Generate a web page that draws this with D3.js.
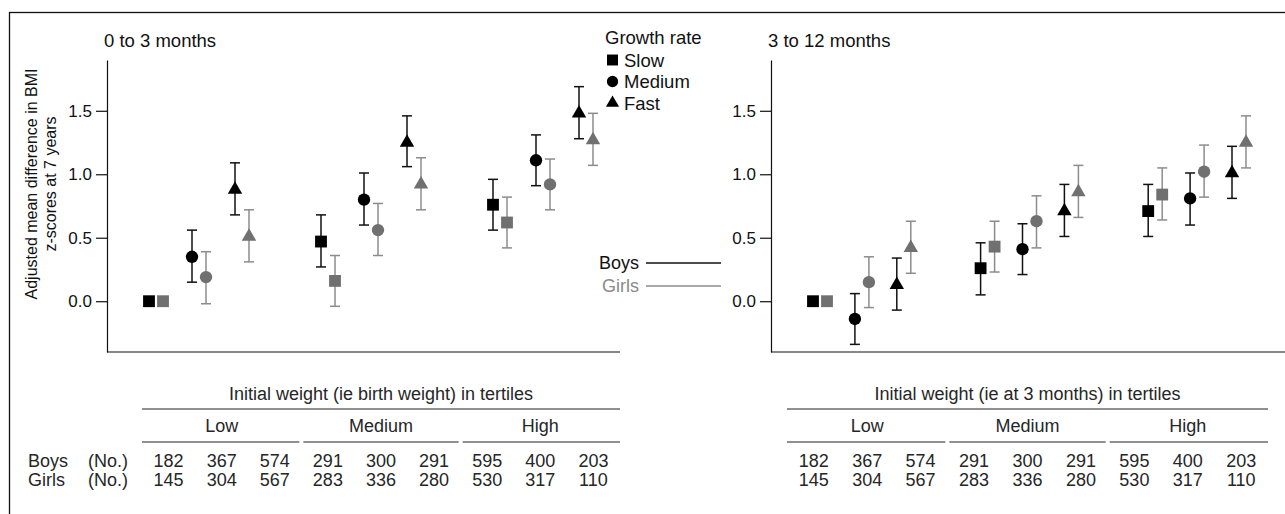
<!DOCTYPE html>
<html>
<head>
<meta charset="UTF-8">
<script src="https://d3js.org/d3.v7.min.js"></script>
<style>
  body { margin: 0; background: #fff; }
  svg { display: block; font-family: 'Liberation Sans', Arial, sans-serif; }
  .tbl { fill: #262626; }
  .axis text { font-size: 17px; fill: #111; }
  .axis path, .axis line { stroke: #111; stroke-width: 1.2; }
</style>
</head>
<body>
<div id="chart"></div>
<script>
// data
const tertiles = ["Low", "Medium", "High"];
const growth = ["Slow", "Medium", "Fast"];
const yTicks = [0, 0.5, 1.0, 1.5];

// 0 to 3 months (order: Low slow/med/fast, Medium ..., High ...)
const boys03   = [0, 0.35, 0.88, 0.47, 0.80, 1.25, 0.76, 1.11, 1.48];
const boys03Lo = [null, 0.15, 0.68, 0.27, 0.60, 1.06, 0.56, 0.91, 1.28];
const boys03Hi = [null, 0.56, 1.09, 0.68, 1.01, 1.46, 0.96, 1.31, 1.69];
const girls03   = [0, 0.19, 0.51, 0.16, 0.56, 0.92, 0.62, 0.92, 1.27];
const girls03Lo = [null, -0.02, 0.31, -0.04, 0.36, 0.72, 0.42, 0.72, 1.07];
const girls03Hi = [null, 0.39, 0.72, 0.36, 0.77, 1.13, 0.82, 1.12, 1.48];

// 3 to 12 months
const boys312   = [0, -0.14, 0.13, 0.26, 0.41, 0.71, 0.71, 0.81, 1.01];
const boys312Lo = [null, -0.34, -0.07, 0.05, 0.21, 0.51, 0.51, 0.60, 0.81];
const boys312Hi = [null, 0.06, 0.34, 0.46, 0.61, 0.92, 0.92, 1.01, 1.22];
const girls312   = [0, 0.15, 0.42, 0.43, 0.63, 0.86, 0.84, 1.02, 1.25];
const girls312Lo = [null, -0.05, 0.22, 0.23, 0.42, 0.66, 0.64, 0.82, 1.05];
const girls312Hi = [null, 0.35, 0.63, 0.63, 0.83, 1.07, 1.05, 1.23, 1.46];

const boysN  = [182, 367, 574, 291, 300, 291, 595, 400, 203];
const girlsN = [145, 304, 567, 283, 336, 280, 530, 317, 110];

const width = 1285, height = 514;
const boysCol = "#111", girlsBar = "#8c8c8c", girlsFill = "#707070", girlsText = "#8a8a8a";
const fs = 18.5;

const svg = d3.select("#chart").append("svg")
  .attr("width", width).attr("height", height);

// outer frame
svg.append("rect")
  .attr("x", 9.5).attr("y", 12.5)
  .attr("width", width + 20).attr("height", height + 20)
  .attr("fill", "none").attr("stroke", "#111").attr("stroke-width", 1.3);

const y = d3.scaleLinear().domain([-0.4, 1.9]).range([352, 60]);
const symbols = [d3.symbolSquare, d3.symbolCircle, d3.symbolTriangle];
const symSize = [140, 120, 90];

const panels = [
  { title: "0 to 3 months", axisX: 107, right: 620, xr: [149, 579],
    boys: boys03, boysLo: boys03Lo, boysHi: boys03Hi,
    girls: girls03, girlsLo: girls03Lo, girlsHi: girls03Hi,
    tblX: 142, tblW: 478, tblTitle: "Initial weight (ie birth weight) in tertiles" },
  { title: "3 to 12 months", axisX: 771, right: 1290, xr: [813, 1232],
    boys: boys312, boysLo: boys312Lo, boysHi: boys312Hi,
    girls: girls312, girlsLo: girls312Lo, girlsHi: girls312Hi,
    tblX: 787, tblW: 481, tblTitle: "Initial weight (ie at 3 months) in tertiles" }
];

panels.forEach(p => {
  const g = svg.append("g");
  const x = d3.scaleLinear().domain([0, 10]).range(p.xr);

  g.append("text").attr("x", p.axisX - 3).attr("y", 47)
    .attr("font-size", fs).attr("fill", "#111").text(p.title);

  g.append("g").attr("class", "axis")
    .attr("transform", `translate(${p.axisX},0)`)
    .call(d3.axisLeft(y).tickValues(yTicks).tickSize(11).tickSizeOuter(0)
      .tickPadding(4).tickFormat(d3.format(".1f")));

  g.append("line").attr("x1", p.axisX).attr("x2", p.right)
    .attr("y1", 352).attr("y2", 352).attr("stroke", "#111").attr("stroke-width", 1.2);

  const series = [
    { v: p.boys, lo: p.boysLo, hi: p.boysHi, dx: 0, bar: boysCol, fill: "#000" },
    { v: p.girls, lo: p.girlsLo, hi: p.girlsHi, dx: 14, bar: girlsBar, fill: girlsFill }
  ];

  series.forEach(s => {
    const pts = s.v.map((v, i) => ({
      v, lo: s.lo[i], hi: s.hi[i], k: i % 3,
      cx: x(4 * Math.floor(i / 3) + (i % 3)) + s.dx
    }));
    const eb = g.append("g").attr("stroke", s.bar).attr("stroke-width", 1.5)
      .selectAll("g").data(pts.filter(d => d.lo !== null)).join("g");
    eb.append("line").attr("x1", d => d.cx).attr("x2", d => d.cx)
      .attr("y1", d => y(d.lo)).attr("y2", d => y(d.hi));
    eb.append("line").attr("x1", d => d.cx - 5).attr("x2", d => d.cx + 5)
      .attr("y1", d => y(d.lo)).attr("y2", d => y(d.lo));
    eb.append("line").attr("x1", d => d.cx - 5).attr("x2", d => d.cx + 5)
      .attr("y1", d => y(d.hi)).attr("y2", d => y(d.hi));

    g.append("g").selectAll("path").data(pts).join("path")
      .attr("transform", d => `translate(${d.cx},${y(d.v)})`)
      .attr("d", d => d3.symbol().type(symbols[d.k]).size(symSize[d.k])())
      .attr("fill", s.fill);
  });

  // counts table
  const t = svg.append("g").attr("class", "tbl").attr("font-size", 18);
  const cell = p.tblW / 9;
  const colX = i => p.tblX + cell * (i + 0.5);
  t.append("text").attr("x", p.tblX + p.tblW / 2).attr("y", 400)
    .attr("text-anchor", "middle").text(p.tblTitle);
  t.append("line").attr("x1", p.tblX).attr("x2", p.tblX + p.tblW)
    .attr("y1", 409).attr("y2", 409).attr("stroke", "#222").attr("stroke-width", 1.2);
  tertiles.forEach((name, gi) => {
    const x0 = p.tblX + cell * 3 * gi + (gi ? 2 : 0);
    const x1 = p.tblX + cell * 3 * (gi + 1) - (gi < 2 ? 2 : 0);
    t.append("text").attr("x", colX(3 * gi + 1)).attr("y", 432)
      .attr("text-anchor", "middle").text(name);
    t.append("line").attr("x1", x0).attr("x2", x1)
      .attr("y1", 442).attr("y2", 442).attr("stroke", "#222").attr("stroke-width", 1.2);
  });
  [boysN, girlsN].forEach((row, ri) => {
    t.selectAll(null).data(row).join("text")
      .attr("x", (d, i) => colX(i)).attr("y", 467 + ri * 19)
      .attr("text-anchor", "middle").text(d => d);
  });
});

// row labels for the counts
const rl = svg.append("g").attr("class", "tbl").attr("font-size", 18);
["Boys", "Girls"].forEach((r, i) => {
  rl.append("text").attr("x", 28).attr("y", 467 + i * 19).text(r);
  rl.append("text").attr("x", 88).attr("y", 467 + i * 19).text("(No.)");
});

// y label
svg.append("text")
  .attr("transform", "translate(37,184) rotate(-90)")
  .attr("text-anchor", "middle").attr("font-size", 16).attr("fill", "#111")
  .text("Adjusted mean difference in BMI");
svg.append("text")
  .attr("transform", "translate(56,184) rotate(-90)")
  .attr("text-anchor", "middle").attr("font-size", 16).attr("fill", "#111")
  .text("z-scores at 7 years");

// growth rate legend
const lg = svg.append("g").attr("font-size", fs).attr("fill", "#111");
lg.append("text").attr("x", 605).attr("y", 44).text("Growth rate");
growth.forEach((name, k) => {
  const yy = 60 + k * 21.5;
  lg.append("path").attr("transform", `translate(612.5,${yy})`)
    .attr("d", d3.symbol().type(symbols[k]).size([120, 100, 75][k])())
    .attr("fill", "#000");
  lg.append("text").attr("x", 624).attr("y", yy + 6.5).text(name);
});

// boys / girls legend
[["Boys", boysCol, "#111", 263], ["Girls", girlsBar, girlsText, 286]].forEach(([name, lc, tc, yy]) => {
  svg.append("text").attr("x", 639).attr("y", yy + 6).attr("text-anchor", "end")
    .attr("font-size", 18).attr("fill", tc).text(name);
  svg.append("line").attr("x1", 646).attr("x2", 721).attr("y1", yy).attr("y2", yy)
    .attr("stroke", lc).attr("stroke-width", 1.5);
});
</script>
</body>
</html>
